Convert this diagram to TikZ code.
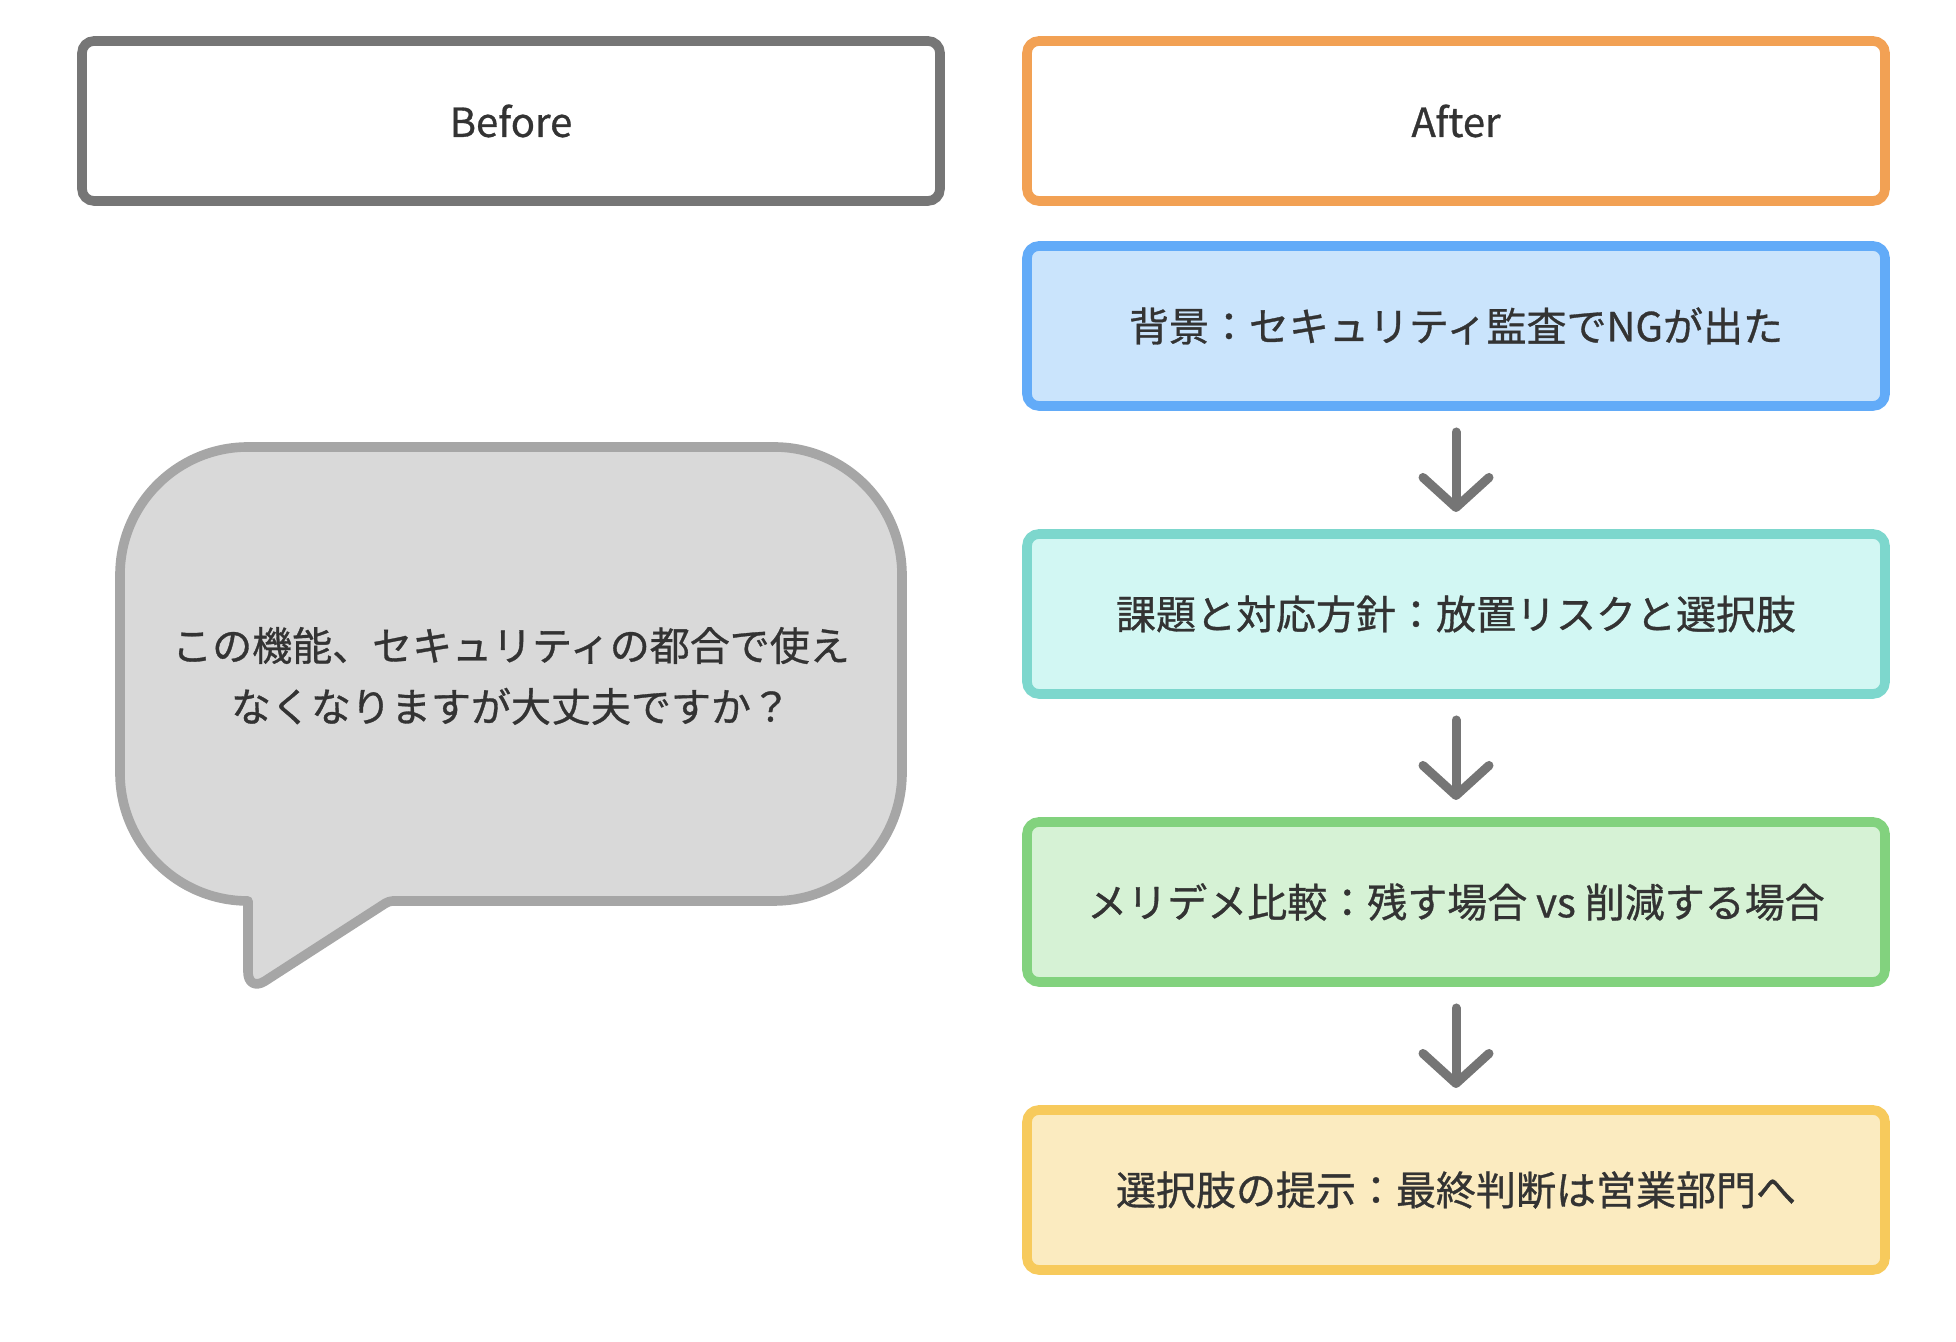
\documentclass[tikz,border=0pt]{standalone}
\usepackage{fontspec}
\setmainfont{Noto Sans CJK JP}[FakeBold=0.8]
\usetikzlibrary{arrows.meta,positioning}
\definecolor{Ink}{HTML}{333333}
\definecolor{BeforeLine}{HTML}{767676}
\definecolor{AfterLine}{HTML}{F2A154}
\definecolor{BlueLine}{HTML}{62ABF8}
\definecolor{BlueFill}{HTML}{CAE4FC}
\definecolor{TealLine}{HTML}{7DD7CD}
\definecolor{TealFill}{HTML}{D2F7F3}
\definecolor{GreenLine}{HTML}{82D27E}
\definecolor{GreenFill}{HTML}{D6F2D5}
\definecolor{GoldLine}{HTML}{F7CA5C}
\definecolor{GoldFill}{HTML}{FBEBC0}
\definecolor{BubbleFill}{HTML}{D9D9D9}
\definecolor{BubbleLine}{HTML}{A6A6A6}
\definecolor{ArrowGray}{HTML}{757575}
\tikzset{
  panel/.style={
    rounded corners=6pt, line width=4.8pt, fill=white, text=Ink,
    minimum width=429pt, minimum height=80pt, inner sep=0pt, outer sep=0pt,
    align=center, font=\fontsize{20}{30}\selectfont
  },
  stage/.style={panel, draw=#1Line, fill=#1Fill},
  bubble/.style={line width=4.8pt, draw=BubbleLine, fill=BubbleFill, line join=round},
  saying/.style={text=Ink, align=center, font=\fontsize{20}{30.5}\selectfont},
  flow/.style={
    -{Straight Barb[length=15pt,width=33pt,round]}, line width=4.5pt,
    draw=ArrowGray, line cap=round, shorten <=13pt, shorten >=11pt
  }
}
\begin{document}
\begin{tikzpicture}[x=0.5pt,y=0.5pt,node distance=64pt]
  \useasboundingbox (0,0) rectangle (1956,1342);
  % left column
  \node[panel,draw=BeforeLine] (before) at (511,1221) {Before};
  \draw[bubble] (500,441) -- (774,441)
    arc[start angle=-90,end angle=0,radius=128] -- (902,767)
    arc[start angle=0,end angle=90,radius=128] -- (248,895)
    arc[start angle=90,end angle=180,radius=128] -- (120,569)
    arc[start angle=180,end angle=270,radius=128]
    [rounded corners=10pt] -- (248,350) [rounded corners=2pt] -- (389,441) -- cycle;
  \node[saying] (question) at (511,666) {この機能、セキュリティの都合で使え\\なくなりますが大丈夫ですか？};
  % right column
  \node[panel,draw=AfterLine] (after) at (1456,1221) {After};
  \node[stage=Blue,below=22.5pt of after] (background) {背景：セキュリティ監査でNGが出た};
  \node[stage=Teal,below=of background] (issue) {課題と対応方針：放置リスクと選択肢};
  \node[stage=Green,below=of issue] (compare) {メリデメ比較：残す場合 vs 削減する場合};
  \node[stage=Gold,below=of compare] (options) {選択肢の提示：最終判断は営業部門へ};
  \draw[flow] (background)--(issue);
  \draw[flow] (issue)--(compare);
  \draw[flow] (compare)--(options);
\end{tikzpicture}
\end{document}
